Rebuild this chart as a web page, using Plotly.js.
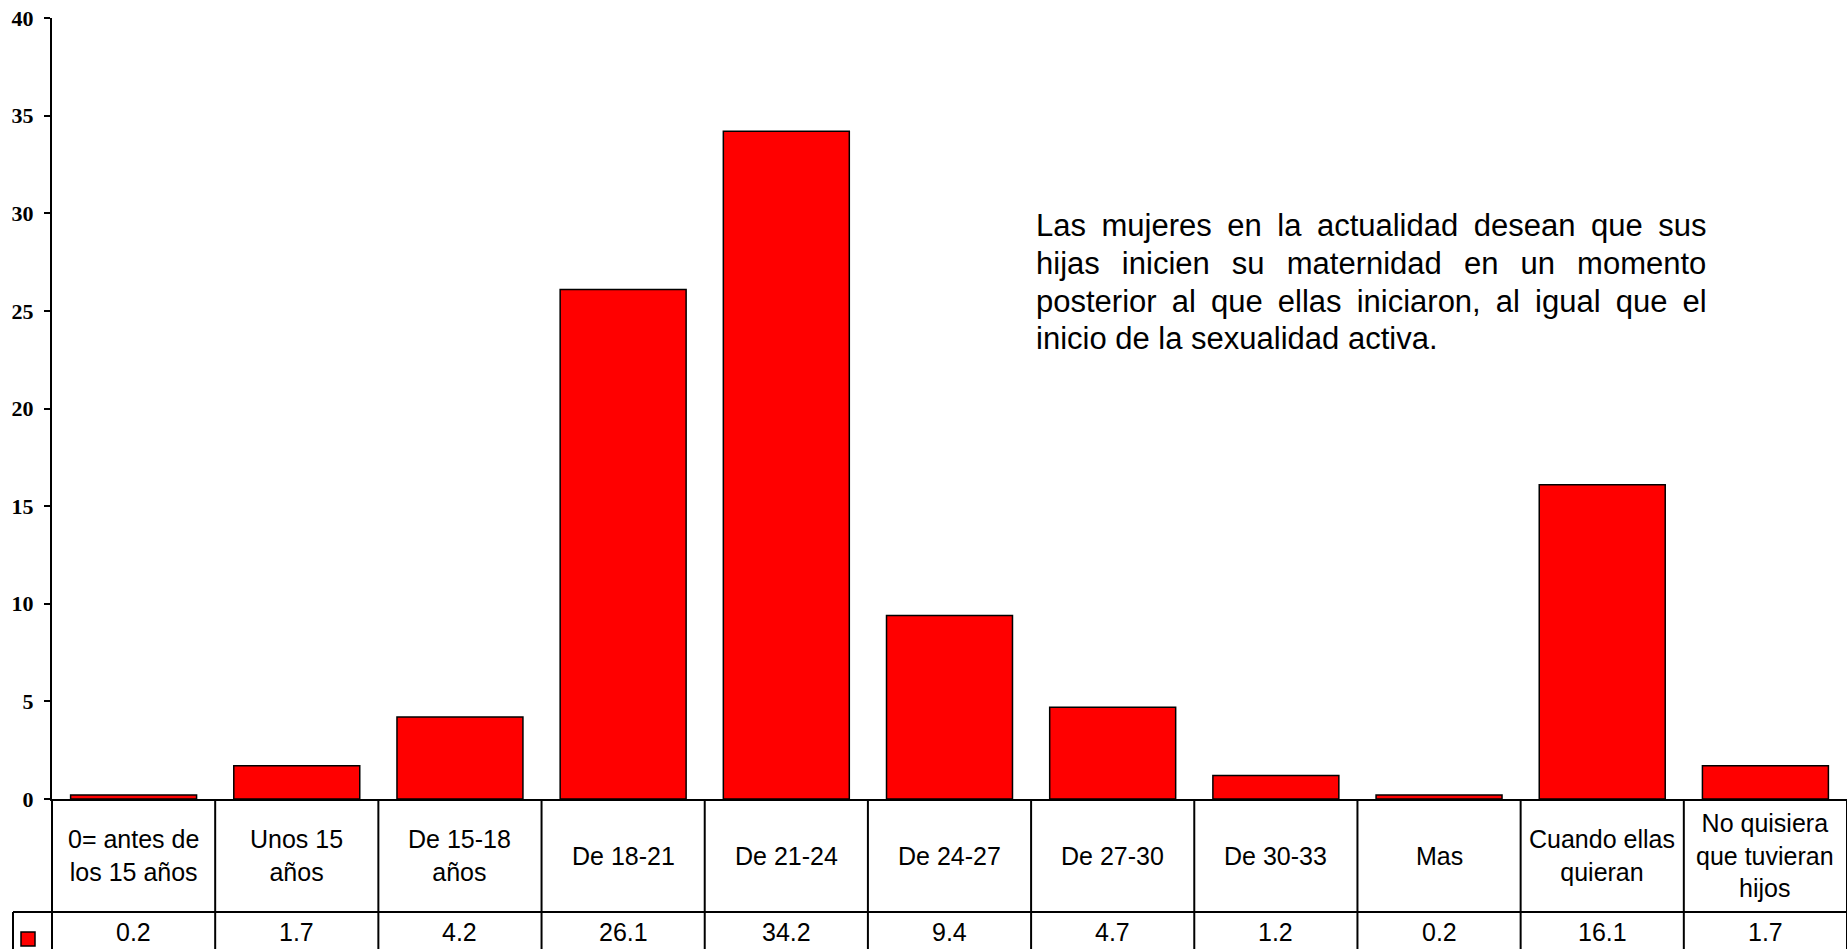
<!DOCTYPE html>
<html>
<head>
<meta charset="utf-8">
<script src="https://cdn.plot.ly/plotly-3.0.1.min.js"></script>
<style>html,body{margin:0;padding:0;background:#fff;}#chart{width:1847px;height:949px;}</style>
</head>
<body>
<div id="chart"></div>
<script>
// ---- data ----
const categories = ["0= antes de los 15 años", "Unos 15 años", "De 15-18 años", "De 18-21", "De 21-24", "De 24-27", "De 27-30", "De 30-33", "Mas", "Cuando ellas quieran", "No quisiera que tuvieran hijos"];
const categoryLabels = ["0= antes de<br>los 15 años", "Unos 15<br>años", "De 15-18<br>años", "De 18-21", "De 21-24", "De 24-27", "De 27-30", "De 30-33", "Mas", "Cuando ellas<br>quieran", "No quisiera<br>que tuvieran<br>hijos"];
const values = [0.2, 1.7, 4.2, 26.1, 34.2, 9.4, 4.7, 1.2, 0.2, 16.1, 1.7];
const yTicks = [0, 5, 10, 15, 20, 25, 30, 35, 40];
const noteLines = ["Las mujeres en la actualidad desean que sus", "hijas inicien su maternidad en un momento", "posterior al que ellas iniciaron, al igual que el", "inicio de la sexualidad activa."];

// ---- geometry helpers (layout only) ----
const W = 1847, H = 949;
const M = {l: 52, r: 0, t: 18, b: 150};
const plotW = W - M.l - M.r, plotH = H - M.t - M.b;
const px2paperX = x => (x - M.l) / plotW;
const px2paperY = y => (H - M.b - y) / plotH;

const N = categories.length;
const rowSplitY = px2paperY(912);
const bottomY = px2paperY(1000);
const tableLeftX = px2paperX(13);

const shapes = [];
// vertical borders
for (let k = 0; k <= N; k++) {
  shapes.push({type: 'line', xref: 'paper', yref: 'paper', x0: k / N, x1: k / N, y0: 0, y1: bottomY,
    line: {color: '#000', width: 2}});
}
// left border of value row
shapes.push({type: 'line', xref: 'paper', yref: 'paper', x0: tableLeftX, x1: tableLeftX, y0: rowSplitY, y1: bottomY,
  line: {color: '#000', width: 2}});
// horizontal row divider
shapes.push({type: 'line', xref: 'paper', yref: 'paper', x0: tableLeftX, x1: 1, y0: rowSplitY, y1: rowSplitY,
  line: {color: '#000', width: 2}});
// legend key
shapes.push({type: 'rect', xref: 'paper', yref: 'paper', x0: px2paperX(21), x1: px2paperX(35), y0: px2paperY(932), y1: px2paperY(946),
  fillcolor: '#FF0000', line: {color: '#000', width: 1.5}});

const annotations = [];
categories.forEach((c, i) => {
  annotations.push({xref: 'x', yref: 'paper', x: c, y: px2paperY(855.5), yanchor: 'middle', xanchor: 'center',
    text: categoryLabels[i], showarrow: false, align: 'center',
    font: {family: 'Liberation Sans, Arial, sans-serif', size: 25, color: '#000'}});
  annotations.push({xref: 'x', yref: 'paper', x: c, y: px2paperY(932), yanchor: 'middle', xanchor: 'center',
    text: values[i].toFixed(1), showarrow: false,
    font: {family: 'Liberation Sans, Arial, sans-serif', size: 25, color: '#000'}});
});

const noteSpacing = [6.9, 13.5, 6.5, 0];
const noteCenters = [226, 263.5, 301, 338];
noteLines.forEach((t, i) => {
  annotations.push({xref: 'paper', yref: 'paper', x: px2paperX(1034), y: px2paperY(noteCenters[i]), xanchor: 'left', yanchor: 'middle',
    text: '<span style="word-spacing:' + noteSpacing[i] + 'px">' + t + '</span>', showarrow: false, align: 'left',
    font: {family: 'Liberation Sans, Arial, sans-serif', size: 31, color: '#000'}});
});

const trace = {
  type: 'bar', x: categories, y: values,
  marker: {color: '#FF0000', line: {color: '#000', width: 1.5}},
  hoverinfo: 'x+y'
};

const layout = {
  width: W, height: H,
  margin: M,
  paper_bgcolor: '#fff', plot_bgcolor: '#fff',
  showlegend: false,
  bargap: 0.228,
  xaxis: {type: 'category', range: [-0.5, N - 0.5], showline: true, linecolor: '#000', linewidth: 2,
    showticklabels: false, ticks: '', showgrid: false, zeroline: false, fixedrange: true},
  yaxis: {range: [0, 40], tickvals: yTicks, ticktext: yTicks.map(String), ticks: 'outside', ticklen: 6, tickwidth: 2, tickcolor: '#000',
    showline: true, linecolor: '#000', linewidth: 2, showgrid: false, zeroline: false, ticklabelstandoff: 6,
    tickfont: {family: 'Liberation Serif, Times New Roman, serif', size: 22, weight: 'bold', color: '#000'}, fixedrange: true},
  shapes: shapes,
  annotations: annotations
};

Plotly.newPlot('chart', [trace], layout, {displayModeBar: false, staticPlot: true});
</script>
</body>
</html>
